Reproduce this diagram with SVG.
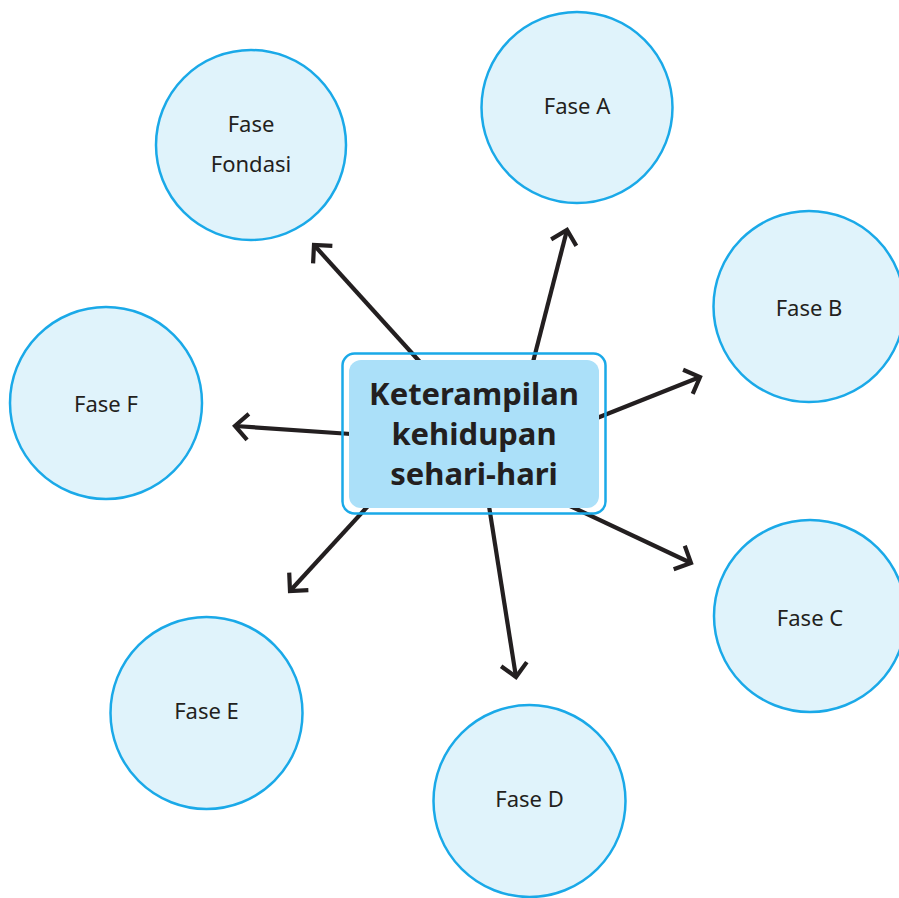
<svg xmlns="http://www.w3.org/2000/svg" width="899" height="898" viewBox="0 0 899 898">
<style>
.c{fill:#e0f3fb;stroke:#1aa9e8;stroke-width:2.5}
.t{font-family:"Noto Sans","Open Sans",sans-serif;font-size:22px;fill:#231f20;text-anchor:middle}
.b{font-family:"Noto Sans","Open Sans",sans-serif;font-size:31px;font-weight:bold;fill:#231f20;text-anchor:middle}
.a{stroke:#231f20;stroke-width:4.2;fill:none;marker-end:url(#ah)}
</style>
<defs>
<marker id="ah" markerUnits="userSpaceOnUse" markerWidth="40" markerHeight="40" viewBox="-20 -20 40 40" refX="0" refY="0" orient="auto" overflow="visible">
<path d="M-13,-13 L0,0 L-13,13" fill="none" stroke="#231f20" stroke-width="4.2"/>
</marker>
</defs>
<rect width="899" height="898" fill="#ffffff"/>
<g id="connectors">
<line class="a" x1="420" y1="362" x2="314" y2="245"/>
<line class="a" x1="533" y1="362" x2="567" y2="230"/>
<line class="a" x1="597" y1="418" x2="700" y2="377"/>
<line class="a" x1="570" y1="506" x2="691" y2="563"/>
<line class="a" x1="489" y1="506" x2="516" y2="677"/>
<line class="a" x1="368" y1="506" x2="290" y2="591"/>
<line class="a" x1="351" y1="434" x2="235" y2="426"/>
</g>
<g id="center">
<rect x="342.5" y="353.5" width="263" height="160" rx="12" fill="none" stroke="#1aa9e8" stroke-width="2.5"/>
<rect x="349" y="360" width="250" height="148" rx="12" fill="#abe0f9"/>
<text class="b" x="474" y="405">Keterampilan</text>
<text class="b" x="474" y="445">kehidupan</text>
<text class="b" x="474" y="485">sehari-hari</text>
</g>
<g id="fondasi"><circle class="c" cx="251" cy="145" r="95"/><text class="t" x="251" y="132">Fase</text><text class="t" x="251" y="172">Fondasi</text></g>
<g id="faseA"><circle class="c" cx="577" cy="107.5" r="95.5"/><text class="t" x="577" y="114">Fase A</text></g>
<g id="faseB"><circle class="c" cx="809" cy="306.5" r="95.5"/><text class="t" x="809" y="316">Fase B</text></g>
<g id="faseC"><circle class="c" cx="810" cy="616" r="96"/><text class="t" x="810" y="626">Fase C</text></g>
<g id="faseD"><circle class="c" cx="529.5" cy="801" r="96"/><text class="t" x="529.5" y="807">Fase D</text></g>
<g id="faseE"><circle class="c" cx="206.5" cy="713" r="96"/><text class="t" x="206.5" y="719">Fase E</text></g>
<g id="faseF"><circle class="c" cx="106" cy="403" r="96"/><text class="t" x="106" y="412">Fase F</text></g>
</svg>
